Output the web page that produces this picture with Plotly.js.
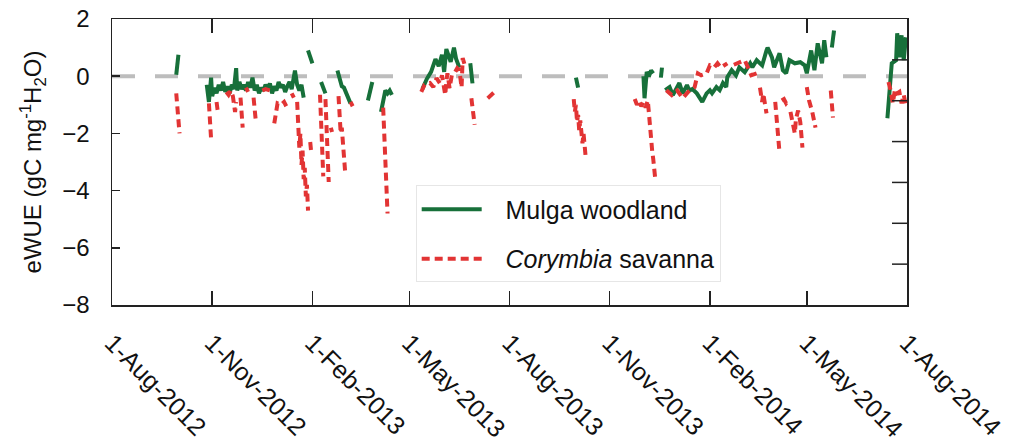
<!DOCTYPE html>
<html>
<head>
<meta charset="utf-8">
<script src="https://cdn.plot.ly/plotly-3.0.1.min.js"></script>
<style>html,body{margin:0;padding:0;background:#fff;}#chart{width:1014px;height:441px;}</style>
</head>
<body>
<div id="chart"></div>
<script>
// ---- Mulga woodland (null = data gap)
var mulgaDates = [
 '2012-09-29','2012-09-30','2012-10-01','2012-10-05',
 '2012-10-27','2012-10-29','2012-10-31','2012-11-01','2012-11-03','2012-11-05','2012-11-07','2012-11-09','2012-11-11','2012-11-13',
 '2012-11-15','2012-11-17','2012-11-19','2012-11-21','2012-11-23','2012-11-24','2012-11-26','2012-11-28','2012-11-30','2012-12-02',
 '2012-12-04','2012-12-06','2012-12-08','2012-12-10','2012-12-12','2012-12-14','2012-12-16','2012-12-18','2012-12-20','2012-12-22',
 '2012-12-24','2012-12-26','2012-12-28','2012-12-30','2013-01-01','2013-01-03','2013-01-05','2013-01-07','2013-01-09','2013-01-11',
 '2013-01-13','2013-01-16','2013-01-18','2013-01-20','2013-01-22','2013-01-24','2013-01-26',
 '2013-01-28','2013-01-30','2013-02-01','2013-02-05',
 '2013-02-09','2013-02-11','2013-02-13','2013-02-18',
 '2013-02-24','2013-02-26','2013-02-28','2013-03-02','2013-03-04','2013-03-06','2013-03-08','2013-03-15',
 '2013-03-24','2013-03-26','2013-03-28','2013-04-01',
 '2013-04-05','2013-04-07','2013-04-09','2013-04-11','2013-04-13','2013-04-15','2013-04-25',
 '2013-05-13','2013-05-17','2013-05-21','2013-05-25','2013-05-28','2013-05-31','2013-06-02','2013-06-04','2013-06-08','2013-06-11',
 '2013-06-13','2013-06-16','2013-06-20',
 '2013-06-26','2013-06-28','2013-07-15',
 '2013-10-01','2013-10-03','2013-10-20',
 '2013-12-02','2013-12-03','2013-12-05','2013-12-07','2013-12-09','2013-12-11','2013-12-15',
 '2013-12-18','2013-12-19','2013-12-20',
 '2013-12-22','2013-12-26','2013-12-29','2014-01-01','2014-01-04','2014-01-07','2014-01-11','2014-01-13','2014-01-16','2014-01-20',
 '2014-01-25','2014-01-29','2014-02-01','2014-02-03','2014-02-07','2014-02-10','2014-02-13','2014-02-16','2014-02-17','2014-02-21',
 '2014-02-25','2014-02-28','2014-03-05','2014-03-10','2014-03-12','2014-03-16','2014-03-21','2014-03-25','2014-03-26','2014-03-30',
 '2014-04-01','2014-04-06','2014-04-09','2014-04-12','2014-04-15','2014-04-20','2014-04-25','2014-04-29','2014-05-01','2014-05-05',
 '2014-05-08','2014-05-11','2014-05-15','2014-05-17','2014-05-19','2014-05-21',
 '2014-05-24','2014-05-26','2014-06-15',
 '2014-07-14','2014-07-16','2014-07-18','2014-07-22','2014-07-23','2014-07-25','2014-07-27','2014-07-29','2014-07-31'
];
var mulgaEWUE = [
 0.05,0.4,0.75,null,
 -0.3,-0.9,-0.05,-0.7,-0.4,-0.6,-0.3,-0.5,-0.2,-0.55,
 -0.35,-0.6,-0.3,-0.45,0.28,-0.5,-0.2,-0.45,-0.3,-0.5,
 -0.2,-0.4,-0.05,-0.5,-0.3,-0.6,-0.4,-0.5,-0.3,-0.45,
 -0.25,-0.6,-0.35,-0.5,-0.2,-0.4,-0.3,-0.55,-0.35,-0.2,
 -0.45,0.2,-0.3,-0.5,-0.3,-0.75,null,
 0.9,0.7,0.45,null,
 -0.2,-0.4,-0.6,null,
 0.2,-0.1,-0.35,-0.4,-0.6,-0.8,-0.95,null,
 -0.85,-0.5,-0.2,null,
 -1.25,-0.8,-0.5,-0.6,-0.5,-0.65,null,
 -0.45,-0.1,0.15,0.6,0.35,0.75,0.15,0.95,0.5,1.0,
 0.6,0.3,null,
 0.45,-0.25,null,
 -0.05,-0.4,null,
 0.0,-0.77,0.15,0.0,0.2,0.1,null,
 -0.05,0.3,null,
 -0.49,-0.38,-0.66,-0.42,-0.24,-0.6,-0.31,-0.49,-0.45,-0.6,
 -0.9,-0.6,-0.49,-0.6,-0.38,-0.49,-0.24,-0.38,-0.03,0.21,
 0.03,0.31,0.14,0.45,0.31,0.56,0.38,0.9,1.0,0.66,
 0.31,0.8,0.21,0.1,0.56,0.45,0.49,0.38,0.1,0.9,
 0.21,1.15,0.45,1.26,0.66,null,
 1.0,1.6,null,
 -1.47,-0.38,0.45,0.56,1.5,0.66,1.43,0.56,1.36
];

// ---- Corymbia savanna (null = data gap)
var corymbiaDates = [
 '2012-09-29','2012-09-30','2012-10-01','2012-10-02','2012-10-10',
 '2012-10-29','2012-10-30','2012-10-31','2012-11-02',
 '2012-11-05','2012-11-06','2012-11-10',
 '2012-11-14','2012-11-16','2012-11-18','2012-11-20','2012-11-22','2012-11-23','2012-11-25',
 '2012-11-27','2012-11-28','2012-11-29','2012-11-30',
 '2012-12-02','2012-12-04','2012-12-06',
 '2012-12-09','2012-12-10','2012-12-11','2012-12-14',
 '2012-12-17','2012-12-20','2012-12-24','2012-12-26',
 '2012-12-28','2012-12-29','2012-12-31','2013-01-03','2013-01-06','2013-01-08','2013-01-10',
 '2013-01-13','2013-01-15','2013-01-16',
 '2013-01-18','2013-01-19','2013-01-20','2013-01-21','2013-01-22','2013-01-23','2013-01-24','2013-01-25','2013-01-26','2013-01-27','2013-01-28','2013-01-29',
 '2013-01-30','2013-01-31','2013-02-04',
 '2013-02-08','2013-02-09','2013-02-10','2013-02-11','2013-02-12',
 '2013-02-13','2013-02-14','2013-02-15','2013-02-16','2013-02-17',
 '2013-02-18','2013-02-19','2013-02-22',
 '2013-02-25','2013-02-26','2013-02-27','2013-02-28','2013-03-01','2013-03-02','2013-03-03','2013-03-05',
 '2013-03-08','2013-03-10','2013-03-20',
 '2013-04-07','2013-04-08','2013-04-09','2013-04-10','2013-04-11','2013-04-20',
 '2013-05-12','2013-05-15','2013-05-20','2013-05-23','2013-05-26','2013-05-29','2013-05-31','2013-06-03','2013-06-04','2013-06-05',
 '2013-06-07','2013-06-09','2013-06-12','2013-06-14','2013-06-16','2013-06-18','2013-06-19','2013-06-21','2013-06-24',
 '2013-06-27','2013-06-28','2013-06-30','2013-07-05',
 '2013-07-12','2013-07-16','2013-07-20','2013-08-01',
 '2013-09-29','2013-09-30','2013-10-01','2013-10-02','2013-10-03','2013-10-04','2013-10-05','2013-10-06','2013-10-07','2013-10-08',
 '2013-10-09','2013-10-10','2013-10-20',
 '2013-11-24','2013-11-26','2013-11-28','2013-11-30','2013-12-02','2013-12-04','2013-12-06','2013-12-07','2013-12-08','2013-12-09',
 '2013-12-10','2013-12-11','2013-12-12','2013-12-13','2013-12-18',
 '2013-12-23','2013-12-28','2014-01-02','2014-01-07','2014-01-12','2014-01-18','2014-01-21','2014-01-24','2014-01-29','2014-02-01',
 '2014-02-05','2014-02-08','2014-02-11','2014-02-14','2014-02-17','2014-02-20',
 '2014-02-23','2014-03-01','2014-03-05','2014-03-08','2014-03-11','2014-03-16','2014-03-18',
 '2014-03-19','2014-03-21','2014-03-22','2014-03-24','2014-03-25','2014-03-30',
 '2014-04-02','2014-04-03','2014-04-04','2014-04-05','2014-04-06','2014-04-07',
 '2014-04-08','2014-04-10','2014-04-12','2014-04-13','2014-04-15',
 '2014-04-16','2014-04-18','2014-04-20','2014-04-21','2014-04-23','2014-04-25','2014-04-26','2014-04-27','2014-04-29',
 '2014-05-01','2014-05-03','2014-05-06','2014-05-09','2014-05-15',
 '2014-05-23','2014-05-24','2014-05-25','2014-06-15',
 '2014-07-15','2014-07-17','2014-07-19','2014-07-21','2014-07-23','2014-07-25','2014-07-27','2014-07-29','2014-07-31'
];
var corymbiaEWUE = [
 -0.6,-1.0,-1.5,-2.0,null,
 -0.95,-1.5,-2.2,null,
 -0.9,-1.2,null,
 -0.55,-0.65,-0.5,-0.7,-1.25,-0.9,null,
 -0.75,-1.3,-1.8,null,
 -0.4,-0.55,null,
 -0.75,-1.2,-1.55,null,
 -0.5,-0.45,-0.5,null,
 -1.65,-1.35,-0.95,-1.0,-0.9,-1.05,null,
 -0.6,-0.75,null,
 -0.9,-1.9,-2.5,-2.0,-3.1,-2.6,-3.6,-3.2,-4.2,-3.8,-4.7,null,
 -2.3,-2.7,null,
 -0.65,-1.5,-2.5,-3.5,null,
 -0.8,-1.9,-2.8,-3.7,null,
 -1.8,-1.95,null,
 -0.7,-1.3,-2.0,-1.8,-2.5,-3.0,-3.3,null,
 -0.9,-1.05,null,
 -1.1,-2.0,-3.0,-4.0,-4.8,null,
 -0.55,-0.3,-0.24,-0.38,-0.07,-0.24,0.03,-0.66,-0.2,0.1,
 -0.42,0.03,0.14,0.28,0.21,-0.4,0.63,0.38,null,
 -0.77,-1.2,-1.7,null,
 -0.77,-0.65,-0.49,null,
 -0.8,-1.25,-1.0,-1.6,-1.35,-1.9,-1.55,-2.0,-2.35,-2.0,
 -2.65,-2.85,null,
 -0.8,-1.0,-0.85,-1.05,-0.9,-1.1,-0.85,-1.4,-1.8,-2.1,
 -2.6,-2.9,-3.2,-3.65,null,
 -0.49,-0.66,-0.5,-0.77,-0.55,-0.38,0.1,0.03,0.1,0.38,
 0.31,0.45,0.3,0.38,0.45,null,
 0.4,0.5,0.56,0.3,0.03,0.1,null,
 -0.4,-0.9,-0.6,-1.0,-1.3,null,
 -0.9,-1.4,-1.95,-2.5,-2.7,null,
 -0.85,-0.8,-0.95,-0.9,null,
 -1.25,-1.65,-2.0,-1.5,-1.2,-1.6,-2.3,-2.5,null,
 -0.38,-0.84,-1.25,-1.8,null,
 -0.5,-1.0,-1.45,null,
 -0.2,-0.5,-0.95,-0.45,-0.6,-0.55,-0.95,-0.65,-1.05
];

// ---- axis ticks
var xTickDates = ['2012-08-01','2012-11-01','2013-02-01','2013-05-01','2013-08-01','2013-11-01','2014-02-01','2014-05-01','2014-08-01'];
var xTickLabels = ['1-Aug-2012','1-Nov-2012','1-Feb-2013','1-May-2013','1-Aug-2013','1-Nov-2013','1-Feb-2014','1-May-2014','1-Aug-2014'];
var yTickVals = [-8,-6,-4,-2,0,2];
var rightTickFractions = [1/7, 2/7, 3/7, 4/7, 5/7, 6/7]; // unlabelled ticks on the right frame

var FONT = 'Liberation Sans, Arial, sans-serif';
var GAP = '\u2002\u2005';
var W = 1014, H = 441, ML = 112, MR = 107, MT = 19, MB = 136;
var plotW = W - ML - MR;

var traces = [
 {x: mulgaDates, y: mulgaEWUE, type:'scatter', mode:'lines', name: GAP + 'Mulga woodland',
  legendgroup:'a', line:{color:'#17703a', width:4}, connectgaps:false},
 {x: corymbiaDates, y: corymbiaEWUE, type:'scatter', mode:'lines', name: GAP + '<i>Corymbia</i> savanna',
  legendgroup:'b', line:{color:'#e23434', width:4, dash:'8px,5px'}, connectgaps:false}
];

var shapes = [{type:'line', xref:'paper', x0:0, x1:1, yref:'y', y0:0, y1:0, layer:'below',
   line:{color:'#bdbdbd', width:4, dash:'23px,20px'}}];
rightTickFractions.forEach(function(f){
  shapes.push({type:'line', xref:'paper', yref:'paper', x0:1 - 15/plotW, x1:1, y0:f, y1:f,
    line:{color:'#222', width:1.5}});
});

var layout = {
 width:W, height:H,
 margin:{l:ML, r:MR, t:MT, b:MB},
 paper_bgcolor:'#fff', plot_bgcolor:'#fff',
 font:{family:FONT, size:24, color:'#111'},
 showlegend:true,
 legend:{x:0.382, y:0.418, xanchor:'left', yanchor:'top', bgcolor:'#fff',
   bordercolor:'#e6e6e6', borderwidth:1, font:{family:FONT, size:25, color:'#111'},
   itemwidth:60, tracegroupgap:14, traceorder:'grouped'},
 xaxis:{type:'date', range:['2012-08-01','2014-08-01'], tickmode:'array',
   tickvals:xTickDates, ticktext:xTickLabels, tickangle:45,
   ticks:'inside', ticklen:14, tickwidth:1.5, tickcolor:'#222',
   showline:true, linecolor:'#222', linewidth:1.5, mirror:'ticks',
   showgrid:false, zeroline:false, ticklabelstandoff:12,
   tickfont:{family:FONT, size:25, color:'#111'}},
 yaxis:{range:[-8,2], tickmode:'array', tickvals:yTickVals,
   ticks:'inside', ticklen:8, tickwidth:1.5, tickcolor:'#222',
   showline:true, linecolor:'#222', linewidth:1.5, mirror:true,
   showgrid:false, zeroline:false, ticklabelstandoff:16,
   tickfont:{family:FONT, size:24, color:'#111'},
   title:{text:'eWUE (gC mg<sup>-1</sup>H<sub>2</sub>O)', font:{family:FONT, size:24, color:'#111'}, standoff:14}},
 shapes: shapes
};

Plotly.newPlot('chart', traces, layout, {displayModeBar:false, staticPlot:true});
</script>
</body>
</html>
